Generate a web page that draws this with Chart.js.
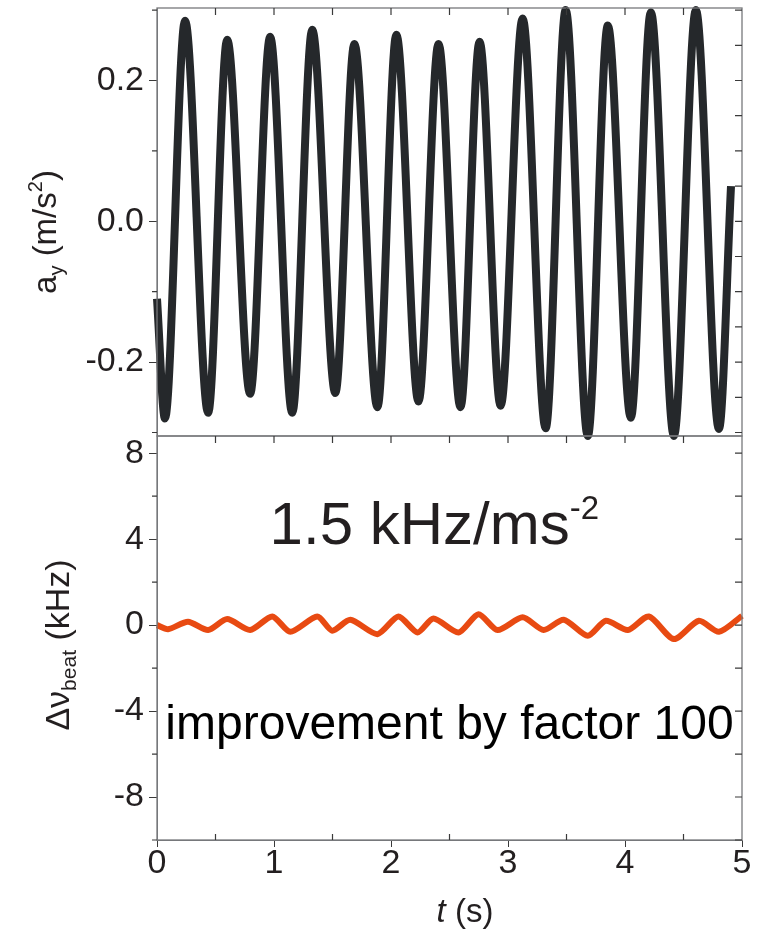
<!DOCTYPE html>
<html>
<head>
<meta charset="utf-8">
<script src="https://cdn.jsdelivr.net/npm/chart.js@4.4.1/dist/chart.umd.min.js"></script>
<style>
  html, body { margin: 0; padding: 0; background: #fff; }
  #wrap { position: relative; width: 767px; height: 937px; }
</style>
</head>
<body>
<div id="wrap"><canvas id="myChart" width="767" height="937"></canvas></div>
<script>
// time axis (s)
const timeTicks = [0, 1, 2, 3, 4, 5];

// top panel: a_y (m/s^2), read at start, peaks, troughs and end
const accTime = [0.00, 0.068, 0.24, 0.437, 0.60, 0.796, 0.967, 1.156, 1.327, 1.524, 1.687,
  1.884, 2.046, 2.235, 2.406, 2.594, 2.757, 2.937, 3.125, 3.322, 3.493, 3.682, 3.853,
  4.05, 4.221, 4.418, 4.606, 4.803, 4.906];
const accValues = [-0.11, -0.28, 0.285, -0.272, 0.258, -0.245, 0.262, -0.272, 0.272, -0.244, 0.252,
  -0.264, 0.265, -0.256, 0.252, -0.264, 0.255, -0.262, 0.288, -0.294, 0.30, -0.305, 0.278,
  -0.279, 0.297, -0.305, 0.30, -0.295, 0.05];
const accTicks = [-0.2, 0.0, 0.2];
const accMinorTicks = [-0.3, -0.1, 0.1, 0.3];

// bottom panel: beat frequency deviation (kHz)
const beatTime = [0.00, 0.094, 0.265, 0.437, 0.599, 0.796, 0.985, 1.139, 1.370, 1.498, 1.652,
  1.884, 2.063, 2.226, 2.363, 2.577, 2.748, 2.911, 3.125, 3.305, 3.476, 3.682, 3.836,
  4.024, 4.204, 4.418, 4.632, 4.803, 5.00];
const beatValues = [0.0, -0.19, 0.16, -0.23, 0.28, -0.23, 0.40, -0.31, 0.40, -0.26, 0.25,
  -0.42, 0.40, -0.34, 0.31, -0.34, 0.51, -0.23, 0.36, -0.23, 0.25, -0.50, 0.20,
  -0.23, 0.40, -0.65, 0.20, -0.31, 0.43];
const beatTicks = [-8, -4, 0, 4, 8];
const beatMinorTicks = [-10, -6, -2, 2, 6];

const FONT = '"Liberation Sans", Arial, Helvetica, sans-serif';
const TEXT = '#231f20';
Chart.defaults.font.family = FONT;
Chart.defaults.color = TEXT;

// draws text with sub/superscripts, centred on (cx, baseline cy)
function richText(ctx, parts, size, cx, cy, rotate, color) {
  ctx.save();
  ctx.translate(cx, cy);
  if (rotate) ctx.rotate(-Math.PI / 2);
  ctx.fillStyle = color || TEXT;
  ctx.textBaseline = 'alphabetic';
  const fontFor = p => (p[1] === 'it' ? 'italic ' : '') +
    Math.round(p[1] === 'sub' || p[1] === 'sup' ? size * (p[2] || 0.62) : size) + 'px ' + FONT;
  let w = 0;
  parts.forEach(p => { ctx.font = fontFor(p); w += ctx.measureText(p[0]).width; });
  let xx = -w / 2;
  parts.forEach(p => {
    ctx.font = fontFor(p);
    const dy = p[1] === 'sub' ? size * 0.2 : p[1] === 'sup' ? -size * 0.42 : 0;
    ctx.fillText(p[0], xx, dy);
    xx += ctx.measureText(p[0]).width;
  });
  ctx.restore();
}

const framePlugin = {
  id: 'frame',
  afterDraw(chart) {
    const { ctx } = chart;
    const { x, yAcc, yBeat } = chart.scales;
    ctx.save();
    ctx.strokeStyle = '#77787b';
    ctx.lineWidth = 1.3;
    [yAcc, yBeat].forEach(y => ctx.strokeRect(x.left, y.top, x.right - x.left, y.bottom - y.top));

    ctx.strokeStyle = '#3a3a3a';
    ctx.lineWidth = 1.2;
    ctx.beginPath();
    const hTick = (y, x1, x2) => { ctx.moveTo(x1, y); ctx.lineTo(x2, y); };
    const vTick = (xp, y1, y2) => { ctx.moveTo(xp, y1); ctx.lineTo(xp, y2); };
    // left minor ticks (outside)
    accMinorTicks.forEach(v => hTick(yAcc.getPixelForValue(v), x.left - 5, x.left));
    beatMinorTicks.forEach(v => hTick(yBeat.getPixelForValue(v), x.left - 5, x.left));
    // right ticks (inside)
    for (let i = -6; i <= 6; i++) hTick(yAcc.getPixelForValue(i * 0.05), x.right - 7, x.right);
    for (let v = -10; v <= 8; v += 2) hTick(yBeat.getPixelForValue(v), x.right - 7, x.right);
    // top ticks of each panel and minor bottom ticks (inside)
    for (let i = 1; i < 10; i++) {
      const xp = x.getPixelForValue(i * 0.5);
      vTick(xp, yAcc.top, yAcc.top + 7);
      vTick(xp, yBeat.top, yBeat.top + 7);
      if (i % 2) vTick(xp, yBeat.bottom, yBeat.bottom - 6);
    }
    ctx.stroke();
    ctx.restore();

    // axis titles
    richText(ctx, [['a', ''], ['y', 'sub'], [' (m/s', ''], ['2', 'sup'], [')', '']], 33, 56, 232, true);
    richText(ctx, [['\u0394\u03bd', ''], ['beat', 'sub'], [' (kHz)', '']], 34, 69, 645, true);
    richText(ctx, [['t', 'it'], [' (s)', '']], 33, 465, 922, false);

    // annotations
    richText(ctx, [['1.5 kHz/ms', ''], ['-2', 'sup', 0.55]], 60,
      x.getPixelForValue(2.37), yBeat.getPixelForValue(3.77), false);
    richText(ctx, [['improvement by factor 100', '']], 48,
      x.getPixelForValue(2.5), yBeat.getPixelForValue(-5.3), false, '#000');
  }
};

const noPad = s => { s.paddingTop = 0; s.paddingBottom = 0; s.paddingLeft = 0; s.paddingRight = 0; };

const ctx = document.getElementById('myChart').getContext('2d');
new Chart(ctx, {
  type: 'line',
  data: {
    datasets: [
      {
        label: 'a_y',
        data: accTime.map((t, i) => ({ x: t, y: accValues[i] })),
        yAxisID: 'yAcc',
        borderColor: '#25282b',
        borderWidth: 8,
        pointRadius: 0,
        cubicInterpolationMode: 'monotone',
        clip: 5
      },
      {
        label: 'beat',
        data: beatTime.map((t, i) => ({ x: t, y: beatValues[i] })),
        yAxisID: 'yBeat',
        borderColor: '#e84a12',
        borderWidth: 6,
        pointRadius: 0,
        tension: 0.25,
        clip: 5
      }
    ]
  },
  options: {
    responsive: false,
    animation: false,
    layout: { padding: { top: 8, right: 25, left: 0, bottom: 0 } },
    plugins: { legend: { display: false }, tooltip: { enabled: false } },
    scales: {
      x: {
        type: 'linear',
        min: 0,
        max: 5,
        afterBuildTicks: s => { s.ticks = timeTicks.map(v => ({ value: v })); },
        afterFit: s => { s.height = 97; noPad(s); },
        grid: { drawOnChartArea: false, tickLength: 7, color: '#3a3a3a' },
        border: { color: '#77787b' },
        ticks: { font: { size: 34 }, padding: -4, maxRotation: 0, color: TEXT }
      },
      yBeat: {
        type: 'linear',
        position: 'left',
        stack: 'panels',
        stackWeight: 404,
        weight: 1,
        min: -10,
        max: 8.8,
        afterBuildTicks: s => { s.ticks = beatTicks.map(v => ({ value: v })); },
        afterFit: s => { s.width = 157; noPad(s); },
        grid: { drawOnChartArea: false, tickLength: 8, color: '#3a3a3a' },
        border: { color: '#77787b' },
        ticks: { font: { size: 34 }, padding: 5, color: TEXT, callback: v => String(v) }
      },
      yAcc: {
        type: 'linear',
        position: 'left',
        stack: 'panels',
        stackWeight: 428,
        weight: 2,
        min: -0.305,
        max: 0.303,
        afterBuildTicks: s => { s.ticks = accTicks.map(v => ({ value: v })); },
        afterFit: s => { s.width = 157; noPad(s); },
        grid: { drawOnChartArea: false, tickLength: 8, color: '#3a3a3a' },
        border: { color: '#77787b' },
        ticks: { font: { size: 34 }, padding: 5, color: TEXT, callback: v => v.toFixed(1) }
      }
    }
  },
  plugins: [framePlugin]
});
</script>
</body>
</html>
